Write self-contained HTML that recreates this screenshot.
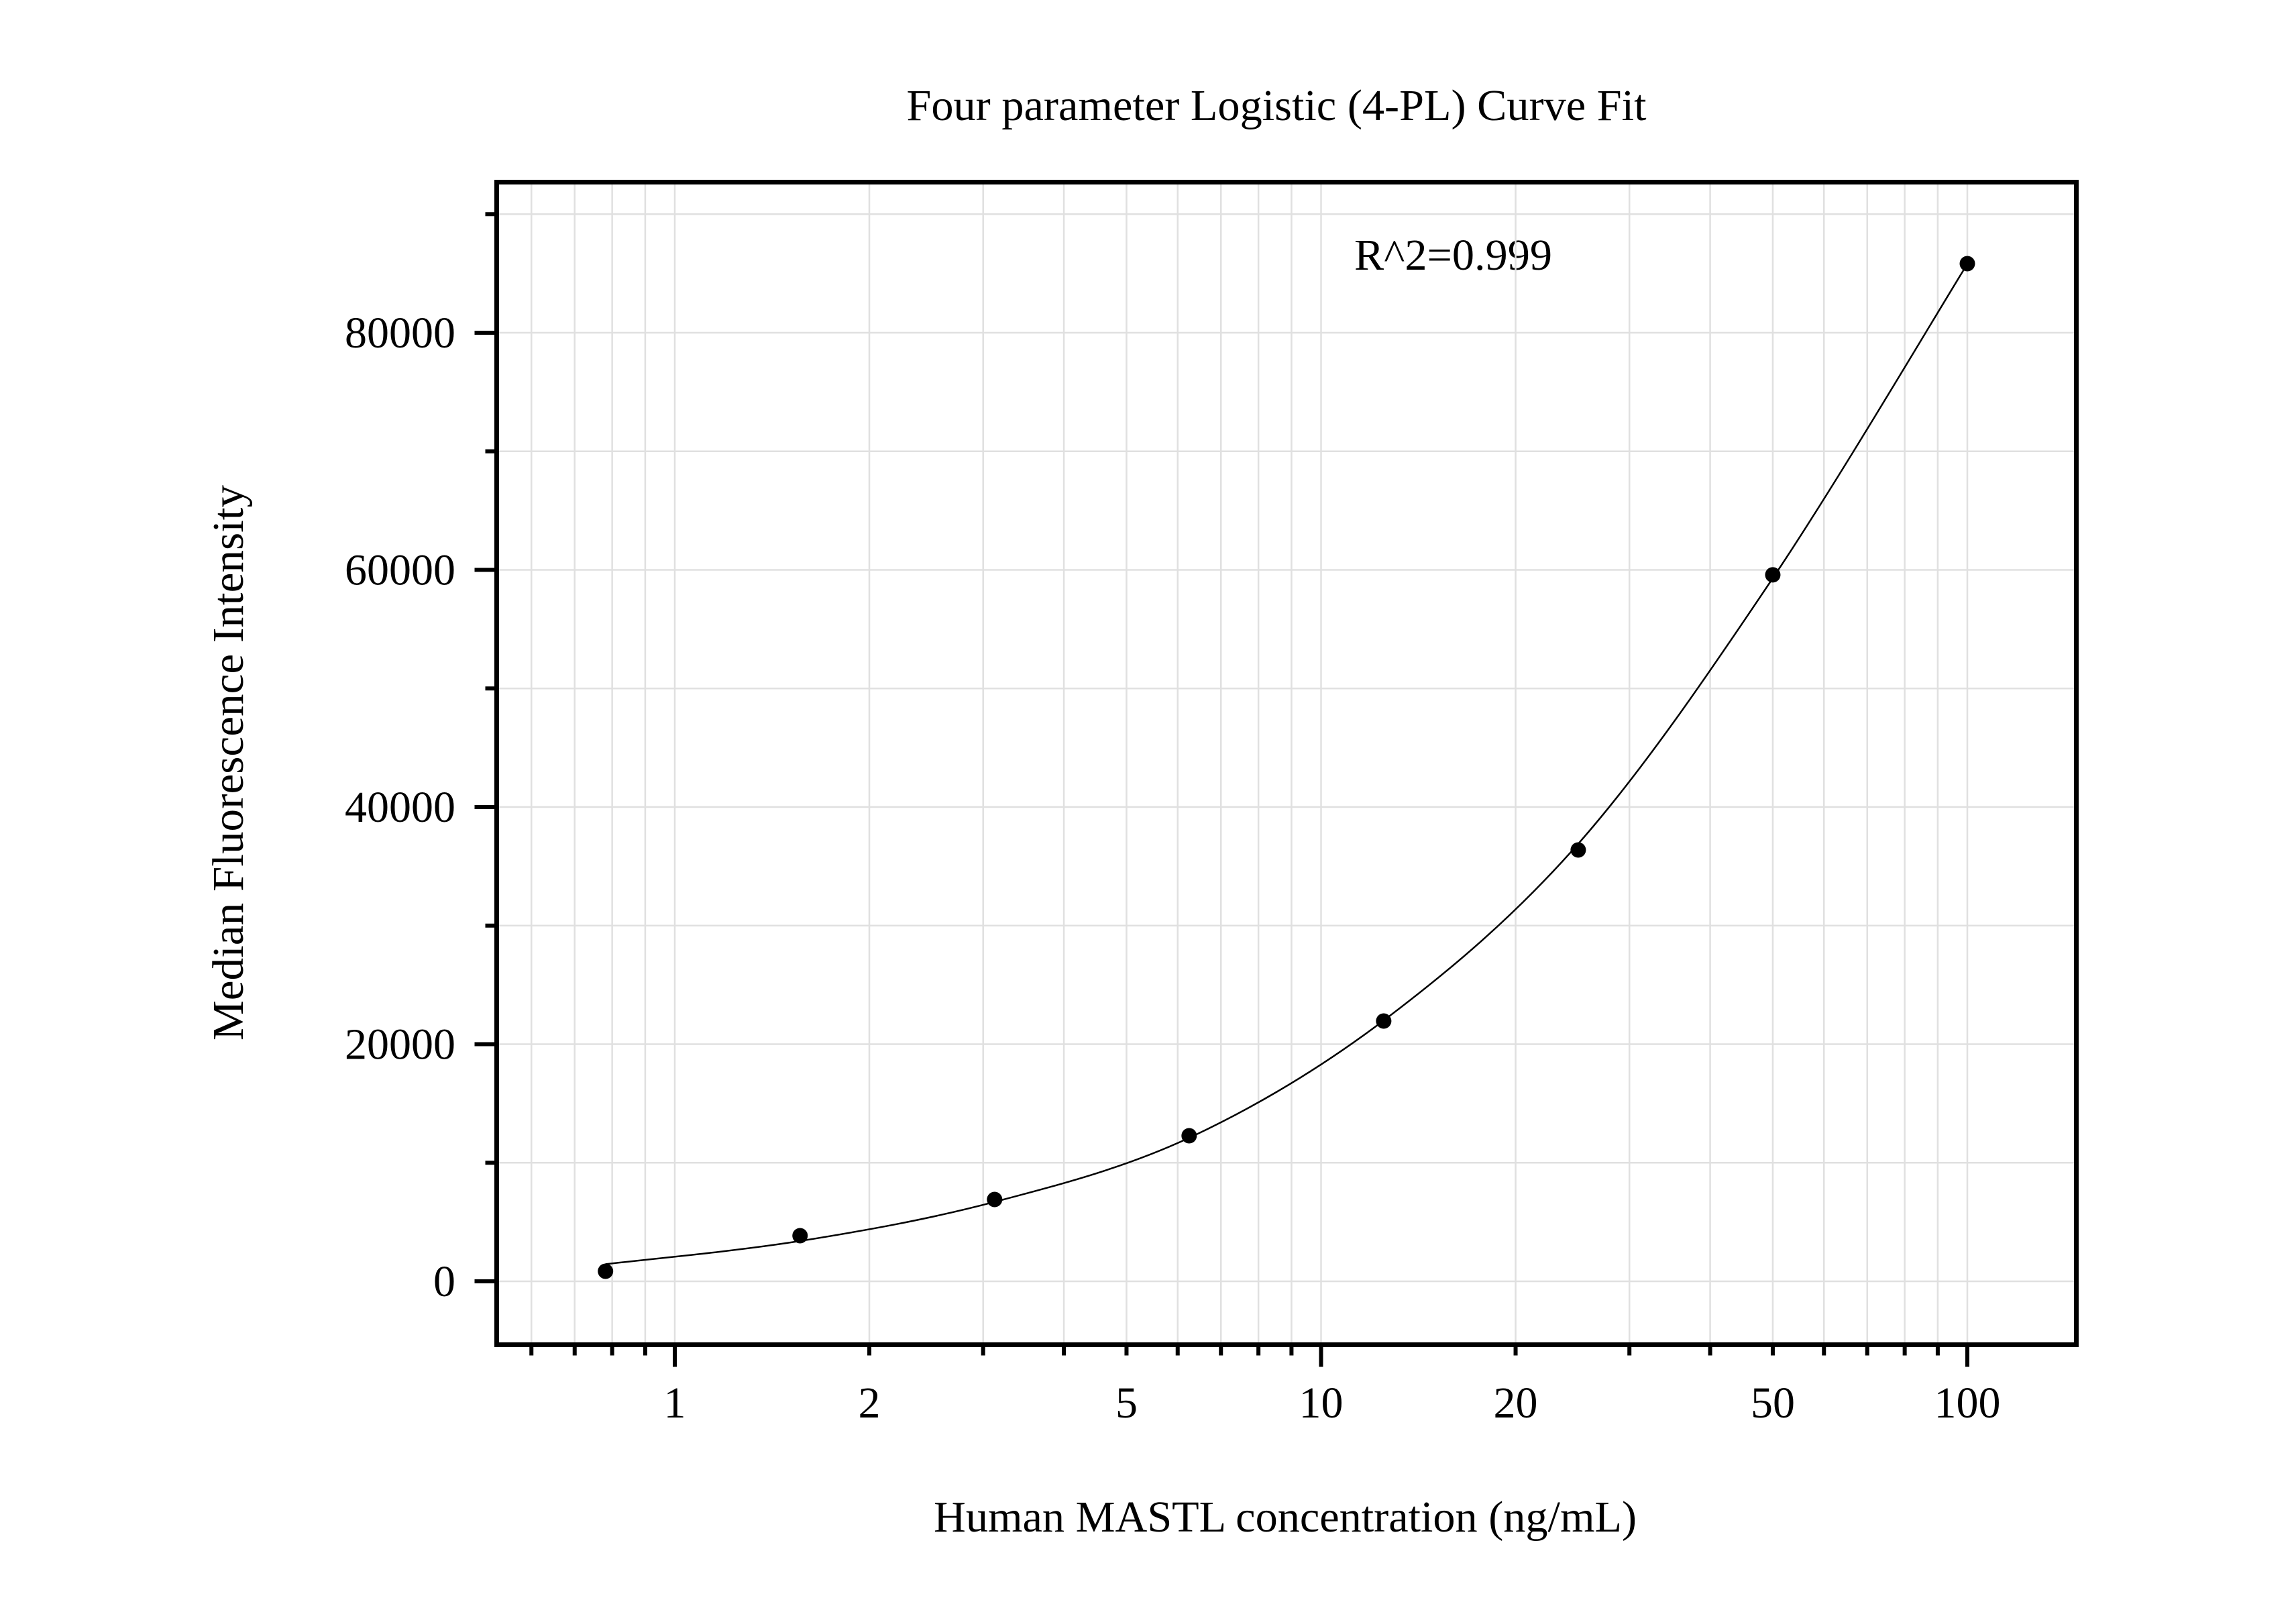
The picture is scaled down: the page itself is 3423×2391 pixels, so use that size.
<!DOCTYPE html>
<html><head><meta charset="utf-8"><style>
html,body{margin:0;padding:0;background:#fff}
svg{display:block}
text{font-family:"Liberation Serif",serif;fill:#000}
</style></head><body>
<svg id="chart" width="3423" height="2391" viewBox="0 0 3423 2391" xmlns="http://www.w3.org/2000/svg">
<rect width="3423" height="2391" fill="#fff"/>
<text x="1903" y="179" font-size="66" text-anchor="middle" textLength="1103" lengthAdjust="spacingAndGlyphs">Four parameter Logistic (4-PL) Curve Fit</text>
<text x="1916" y="2283" font-size="66" text-anchor="middle" textLength="1048" lengthAdjust="spacingAndGlyphs">Human MASTL concentration (ng/mL)</text>
<text transform="translate(362,1137) rotate(-90)" font-size="66" text-anchor="middle" textLength="828" lengthAdjust="spacingAndGlyphs">Median Fluorescence Intensity</text>
<text x="2019" y="402" font-size="66" textLength="295" lengthAdjust="spacingAndGlyphs">R^2=0.999</text>
<g id="grid"></g>
<g id="marks"></g>
<g id="axes"></g>
</svg>
<script>
const concentrations = [0.78125, 1.5625, 3.125, 6.25, 12.5, 25, 50, 100];
const mfiValues = [850, 3850, 6900, 12280, 21950, 36380, 59580, 85830];
const fitCurveValues = [1450, 3400, 6700, 12100, 22000, 36900, 59300, 85800];
const xTickLabels = [1, 2, 5, 10, 20, 50, 100];
const yTickLabels = [0, 20000, 40000, 60000, 80000];

const NS = "http://www.w3.org/2000/svg";
const L = 740.5, R = 3095.5, T = 271.5, B = 2004.5;
const xScale = v => 1006 + Math.log10(v) * 963.5;
const yScale = v => 1910 - v / 20000 * 353.5;
function mk(tag, attrs, parent) {
  const e = document.createElementNS(NS, tag);
  for (const k in attrs) e.setAttribute(k, attrs[k]);
  parent.appendChild(e);
  return e;
}
const grid = document.getElementById('grid');
const marks = document.getElementById('marks');
const axes = document.getElementById('axes');

// vertical grid + x ticks
for (let d = -1; d <= 2; d++) {
  for (let m = 1; m <= 9; m++) {
    const v = m * Math.pow(10, d);
    const x = xScale(v);
    if (x < L + 2 || x > R - 2) continue;
    const g = mk('line', {x1: x, x2: x, y1: T, y2: B, stroke: '#e0e0e0', 'stroke-width': 2.5}, grid);
    
    
    const major = m === 1;
    const t = mk('line', {x1: x, x2: x, y1: B, y2: B + (major ? 33 : 16), stroke: '#000', 'stroke-width': 6}, axes);
    
    
  }
}
xTickLabels.forEach(v => {
  const t = mk('text', {x: xScale(v), y: 2113, 'font-size': 66, 'text-anchor': 'middle'}, axes);
  
  
  t.textContent = v;
});
// horizontal grid + y ticks
for (let v = -0; v <= 90000; v += 10000) {
  const y = yScale(v);
  const g = mk('line', {x1: L, x2: R, y1: y, y2: y, stroke: '#e0e0e0', 'stroke-width': 2.5}, grid);
  
  
  const major = v % 20000 === 0;
  const t = mk('line', {x1: L - (major ? 33 : 17), x2: L, y1: y, y2: y, stroke: '#000', 'stroke-width': 6}, axes);
  
  
}
yTickLabels.forEach(v => {
  const t = mk('text', {x: 679, y: yScale(v) + 22, 'font-size': 66, 'text-anchor': 'end'}, axes);
  
  
  t.textContent = v;
});
// frame
const frame = mk('rect', {x: L, y: T, width: R - L, height: B - T, fill: 'none', stroke: '#000', 'stroke-width': 7}, axes);



// fit curve: Catmull-Rom through fitted values in log-x space
const pts = concentrations.map((c, i) => [xScale(c), yScale(fitCurveValues[i])]);
let d = `M${pts[0][0]},${pts[0][1]}`;
for (let i = 0; i < pts.length - 1; i++) {
  const p0 = pts[Math.max(0, i - 1)], p1 = pts[i], p2 = pts[i + 1], p3 = pts[Math.min(pts.length - 1, i + 2)];
  const c1 = [p1[0] + (p2[0] - p0[0]) / 6, p1[1] + (p2[1] - p0[1]) / 6];
  const c2 = [p2[0] - (p3[0] - p1[0]) / 6, p2[1] - (p3[1] - p1[1]) / 6];
  d += ` C${c1[0]},${c1[1]} ${c2[0]},${c2[1]} ${p2[0]},${p2[1]}`;
}
const curve = mk('path', {d: d, fill: 'none', stroke: '#000', 'stroke-width': 2.5}, marks);



concentrations.forEach((c, i) => {
  const p = mk('ellipse', {cx: xScale(c), cy: yScale(mfiValues[i]), rx: 11.5, ry: 11.5, fill: '#000'}, marks);
  
  
});
</script>
</body></html>
